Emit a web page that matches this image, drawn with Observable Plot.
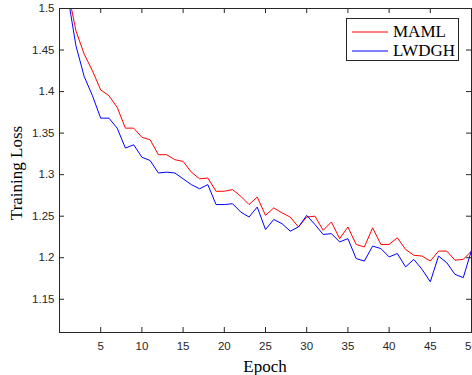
<!DOCTYPE html>
<html>
<head>
<meta charset="utf-8">
<script src="https://cdn.jsdelivr.net/npm/d3@7"></script>
<script src="https://cdn.jsdelivr.net/npm/@observablehq/plot@0.6"></script>
<style>
  html, body { margin: 0; padding: 0; background: #fff; }
  #wrap { position: relative; width: 472px; height: 375px; }
  #legend {
    position: absolute; left: 346px; top: 18px; width: 113px; height: 43px;
    border: 1px solid #262626; background: #fff; box-sizing: border-box;
    font-family: "Liberation Serif", "Times New Roman", serif; font-size: 17px; color: #000;
  }
  .item { position: absolute; left: 4px; height: 20px; display: flex; align-items: center; }
  .item svg { margin-right: 4px; }
</style>
</head>
<body>
<div id="wrap"></div>
<script>
const epochs = d3.range(1, 51);
const maml = [1.522, 1.473, 1.445, 1.425, 1.402, 1.395, 1.381, 1.356, 1.356, 1.345,
              1.342, 1.324, 1.324, 1.318, 1.316, 1.303, 1.295, 1.296, 1.280, 1.280,
              1.282, 1.274, 1.264, 1.273, 1.251, 1.260, 1.254, 1.249, 1.237, 1.249,
              1.250, 1.233, 1.243, 1.223, 1.237, 1.216, 1.213, 1.236, 1.216, 1.216,
              1.224, 1.210, 1.203, 1.202, 1.196, 1.208, 1.208, 1.197, 1.198, 1.208];
const lwdgh = [1.515, 1.455, 1.418, 1.395, 1.368, 1.368, 1.356, 1.332, 1.336, 1.321,
               1.317, 1.302, 1.303, 1.302, 1.295, 1.288, 1.283, 1.288, 1.264, 1.264,
               1.265, 1.255, 1.249, 1.261, 1.234, 1.246, 1.241, 1.232, 1.237, 1.251,
               1.240, 1.228, 1.229, 1.219, 1.223, 1.199, 1.196, 1.214, 1.211, 1.201,
               1.205, 1.189, 1.198, 1.186, 1.171, 1.202, 1.194, 1.180, 1.176, 1.209];
const seriesNames = ["MAML", "LWDGH"];
const seriesColors = ["#ff0000", "#0000ff"];
const xTicks = [5, 10, 15, 20, 25, 30, 35, 40, 45, 50];
const yTicks = [1.15, 1.2, 1.25, 1.3, 1.35, 1.4, 1.45, 1.5];
const xDomain = [0, 50];
const yDomain = [1.11, 1.5];

const data = [];
epochs.forEach((e, i) => {
  data.push({epoch: e, loss: maml[i], series: seriesNames[0]});
  data.push({epoch: e, loss: lwdgh[i], series: seriesNames[1]});
});

const W = 472, H = 375, mT = 8, mB = 43, mL = 59, mR = 1;
const innerH = H - mT - mB, innerW = W - mL - mR;
const tl = 5;
const axisColor = "#262626";
const sans = "'Liberation Sans', Arial, Helvetica, sans-serif";
const serif = "'Liberation Serif', 'Times New Roman', serif";

const chart = Plot.plot({
  width: W, height: H,
  marginTop: mT, marginBottom: mB, marginLeft: mL, marginRight: mR,
  style: {fontFamily: sans, fontSize: "11.5px", color: axisColor, background: "#fff"},
  x: {domain: xDomain},
  y: {domain: yDomain},
  color: {domain: seriesNames, range: seriesColors},
  marks: [
    Plot.line(data, {x: "epoch", y: "loss", z: "series", stroke: "series", strokeWidth: 1, clip: true}),
    // inward ticks (MATLAB style)
    Plot.ruleX(xTicks, {x: d => d, insetTop: innerH - tl, stroke: axisColor}),
    Plot.ruleX(xTicks, {x: d => d, insetBottom: innerH - tl, stroke: axisColor}),
    Plot.ruleY(yTicks, {y: d => d, insetRight: innerW - tl, stroke: axisColor}),
    Plot.ruleY(yTicks, {y: d => d, insetLeft: innerW - tl, stroke: axisColor}),
    Plot.axisX({ticks: xTicks, tickSize: 0, tickPadding: 9, fill: axisColor, label: null, fontSize: 11.5, tickFormat: d => String(d)}),
    Plot.axisY({ticks: yTicks, tickSize: 0, tickPadding: 5, fill: axisColor, label: null, fontSize: 11.5, tickFormat: d => String(d)}),
    Plot.frame({stroke: axisColor})
  ]
});

// axis titles
const svg = d3.select(chart);
svg.append("text")
  .attr("x", mL + innerW / 2).attr("y", 372)
  .attr("text-anchor", "middle")
  .style("font-family", serif).style("font-size", "17px").attr("fill", "#000")
  .text("Epoch");
svg.append("text")
  .attr("transform", `translate(22, ${mT + innerH / 2 + 3}) rotate(-90)`)
  .attr("text-anchor", "middle")
  .style("font-family", serif).style("font-size", "17px").attr("fill", "#000")
  .text("Training Loss");

const wrap = document.getElementById("wrap");
wrap.appendChild(chart);

const legend = document.createElement("div");
legend.id = "legend";
seriesNames.forEach((name, i) => {
  const item = document.createElement("div");
  item.className = "item";
  item.style.top = (3 + i * 19) + "px";
  item.innerHTML = `<svg width="38" height="4"><line x1="1" y1="2" x2="37" y2="2" stroke="${seriesColors[i]}" stroke-width="1"/></svg><span>${name}</span>`;
  legend.appendChild(item);
});
wrap.appendChild(legend);
</script>
</body>
</html>
